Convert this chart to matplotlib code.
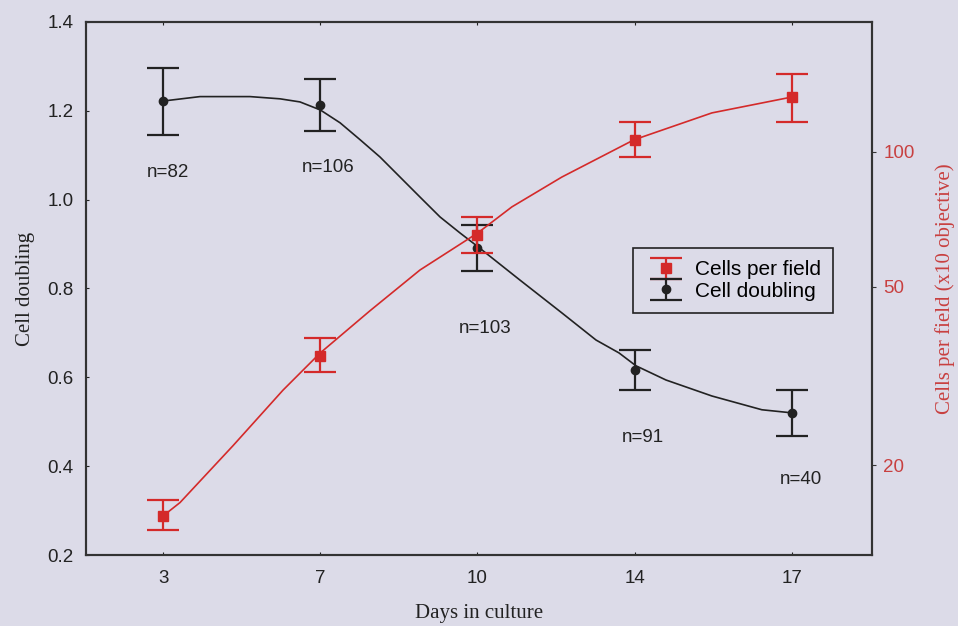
import numpy as np
import matplotlib.pyplot as plt

# data
days = ["3", "7", "10", "14", "17"]
n_labels = ["n=82", "n=106", "n=103", "n=91", "n=40"]

doubling = [1.221, 1.213, 0.891, 0.617, 0.520]
doubling_err = [0.075, 0.059, 0.052, 0.045, 0.051]

cells = [15.4, 35.1, 65.3, 106.4, 132.8]
cells_lo = [1.1, 2.8, 5.8, 8.8, 16.1]
cells_hi = [1.3, 3.3, 6.3, 10.5, 16.7]

# smooth fitted curves (x as category position)
doubling_fit_x = [0, 0.235, 0.553, 0.744, 0.871, 1.0, 1.126, 1.253, 1.380, 1.507,
                  1.634, 1.762, 1.889, 2.003, 2.27, 2.537, 2.754, 2.9, 3.008,
                  3.199, 3.491, 3.809, 4.0]
doubling_fit_y = [1.222, 1.232, 1.232, 1.227, 1.220, 1.202, 1.173, 1.135, 1.096,
                  1.051, 1.006, 0.961, 0.925, 0.894, 0.819, 0.745, 0.684, 0.655,
                  0.626, 0.594, 0.558, 0.527, 0.520]
cells_fit_x = [0, 0.108, 0.445, 0.763, 1.0, 1.316, 1.634, 2.003, 2.219, 2.537,
               2.995, 3.491, 4.0]
cells_fit_y = [15.4, 16.5, 22.1, 29.4, 35.6, 44.2, 54.5, 66.0, 75.4, 87.9,
               106.4, 122.2, 132.6]

# label placement (layout only)
n_label_x = [0.03, 1.05, 2.05, 3.05, 4.06]
n_label_y = [1.061, 1.073, 0.711, 0.4635, 0.3696]

bg = "#dcdbe8"
red = "#d42a2a"
red_text = "#c84040"
dark = "#222222"
spine = "#333333"

fig = plt.figure(figsize=(9.58, 6.26), dpi=100, facecolor=bg)
ax = fig.add_axes([0.0898, 0.1134, 0.8205, 0.8515])
ax.set_facecolor(bg)
ax2 = ax.twinx()

x = np.arange(len(days))

# cell doubling (left axis)
ax.plot(doubling_fit_x, doubling_fit_y, color=dark, lw=1.2)
h1 = ax.errorbar(x, doubling, yerr=doubling_err, fmt="o", color=dark, ms=6,
                 capsize=11.5, capthick=1.6, elinewidth=1.6, ls="-", lw=1.2)
h1[0].set_linestyle("none")

# cells per field (right axis, log)
ax2.plot(cells_fit_x, cells_fit_y, color=red, lw=1.2)
h2 = ax2.errorbar(x, cells, yerr=[cells_lo, cells_hi], fmt="s", color=red, ms=6.5,
                  capsize=11.5, capthick=1.6, elinewidth=1.6)

ax.set_xlim(-0.49, 4.51)
ax.set_ylim(0.2, 1.4)
ax.set_xticks(x)
ax.set_xticklabels(days)
ax.set_yticks([0.2, 0.4, 0.6, 0.8, 1.0, 1.2, 1.4])
ax.set_yticklabels(["0.2", "0.4", "0.6", "0.8", "1.0", "1.2", "1.4"])
ax.tick_params(axis="both", direction="in", length=2, labelsize=13.5,
               colors=dark, top=True)
ax.tick_params(axis="y", pad=9)
ax.tick_params(axis="x", pad=11)

ax2.set_yscale("log")
ax2.set_ylim(12.6, 195)
ax2.set_yticks([20, 50, 100])
ax2.set_yticklabels(["20", "50", "100"])
ax2.minorticks_off()
ax2.tick_params(axis="y", direction="out", length=3, labelsize=13.5,
                labelcolor=red_text, color=spine, pad=5)

for a in (ax, ax2):
    for s in a.spines.values():
        s.set_color(spine)
        s.set_linewidth(1.5)

for lab, lx, ly in zip(n_labels, n_label_x, n_label_y):
    ax.text(lx, ly, lab, ha="center", va="center", fontsize=13.5, color=dark,
            family="Liberation Sans")

for t in ax.get_xticklabels() + ax.get_yticklabels() + ax2.get_yticklabels():
    t.set_family("Liberation Sans")

ax.set_xlabel("Days in culture", family="Liberation Serif", fontsize=15,
              color=dark, labelpad=12)
ax.set_ylabel("Cell doubling", family="Liberation Serif", fontsize=15,
              color=dark, labelpad=9)
ax2.set_ylabel("Cells per field (x10 objective)", family="Liberation Serif",
               fontsize=15, color=red_text, labelpad=15)

leg = ax2.legend([h2, h1], ["Cells per field", "Cell doubling"],
                 loc="upper left", bbox_to_anchor=(0.696, 0.576),
                 frameon=True, fancybox=False, framealpha=1,
                 facecolor=bg, edgecolor=dark,
                 prop={"family": "Liberation Sans", "size": 15},
                 handlelength=2.0, handletextpad=0.35, borderpad=0.6,
                 labelspacing=0.1, borderaxespad=0)
leg.get_frame().set_linewidth(1.2)

fig.savefig("out.png", dpi=100, facecolor=bg)
